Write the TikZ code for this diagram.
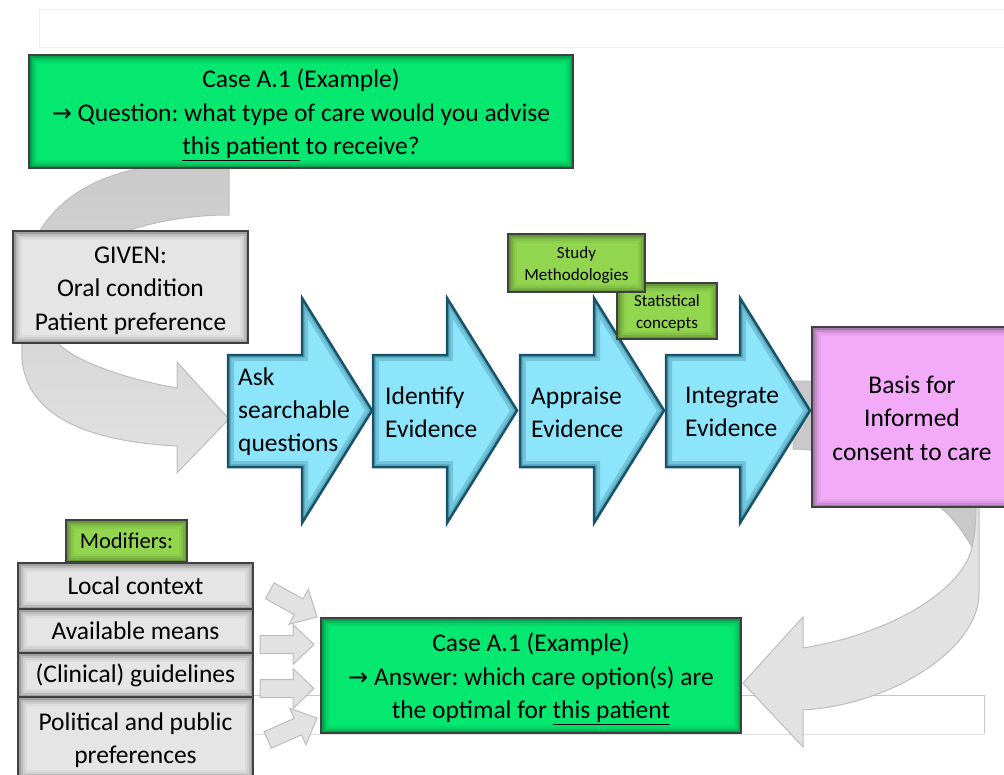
\documentclass[tikz,border=0pt]{standalone}
\usepackage{fontspec}
\setmainfont{Carlito}
\newfontfamily\arrfont{DejaVu Sans}
\usetikzlibrary{calc}
\frenchspacing
\definecolor{cgreen}{HTML}{05E870}
\definecolor{lgreen}{HTML}{92D64F}
\definecolor{cblue}{HTML}{8CE5FA}
\definecolor{bblue}{HTML}{17546C}
\definecolor{cpink}{HTML}{F2AAF9}
\definecolor{cgray}{HTML}{E5E5E5}
\definecolor{agray}{HTML}{E2E2E2}
\definecolor{adark}{HTML}{C9C9C9}
\definecolor{aedge}{HTML}{BDBDBD}
\newcommand{\rarr}{{\arrfont\fontsize{24pt}{24pt}\selectfont →}}
\newcommand{\topstrut}{\rule{0pt}{1.15em}}
\newcommand{\botstrut}{\rule[-0.4em]{0pt}{0.4em}}
\newcommand\bluearrowpath[1]{(#1,355) -- ({#1+74},355) -- ({#1+74},298) -- ({#1+144},410.5) -- ({#1+74},523) -- ({#1+74},467) -- (#1,467) -- cycle}
\newcommand\bluearrow[1]{%
  \fill[cblue] \bluearrowpath{#1};
  \begin{scope}
    \clip \bluearrowpath{#1};
    \draw[bblue,opacity=.22,line width=12pt] \bluearrowpath{#1};
    \draw[bblue,opacity=.22,line width=6pt] \bluearrowpath{#1};
  \end{scope}
  \draw[bblue,line width=2.5pt,line join=miter] \bluearrowpath{#1};
}
\newcommand\smallarrow[3]{%
  \draw[fill=agray,draw=aedge,line width=1pt,shift={(#1,#2)},rotate=#3]
    (0,-9) -- (33,-9) -- (33,-20) -- (54,0) -- (33,20) -- (33,9) -- (0,9) -- cycle;
}
\tikzset{
  glow/.style={path picture={
    \foreach \i/\o in {1.5/0.30,3.5/0.18,5.5/0.09,7.5/0.04}{
      \draw[black,opacity=\o,line width=2pt]
        ([shift={(\i pt,-\i pt)}]path picture bounding box.north west) rectangle
        ([shift={(-\i pt,\i pt)}]path picture bounding box.south east);}}},
  boxbase/.style={draw=black!75, line width=1.5pt, glow, inner sep=0pt, align=center,
    font=\fontsize{25.5pt}{33.5pt}\selectfont},
  greenbox/.style={boxbase, fill=cgreen},
  graybox/.style={boxbase, fill=cgray},
  pinkbox/.style={boxbase, fill=cpink},
  tagbox/.style={boxbase, fill=lgreen, font=\fontsize{17pt}{22pt}\selectfont},
  steptext/.style={anchor=west, align=left, inner sep=0pt, font=\fontsize{25.5pt}{33pt}\selectfont},
}
\begin{document}
\begin{tikzpicture}[x=1pt,y=-1pt]
\useasboundingbox (0,0) rectangle (1004,774);
% faint frames
\draw[black!6,line width=0.8pt] (39,9) rectangle (1010,47);
\draw[black!22,line width=0.8pt] (253,695) -- (984,695) -- (984,734);
\draw[black!12,line width=0.8pt] (253,734) -- (984,734);
% big curved arrow (left)
\shade[top color=adark, bottom color=agray, draw=aedge, line width=1pt]
  (229,150) -- (229,215) .. controls (195,215) and (160,220) .. (127,231)
  .. controls (80,250) and (45,300) .. (60,345)
  .. controls (75,360) and (120,378) .. (177,388)
  -- (177,362) -- (229,419) -- (177,473) -- (177,446)
  .. controls (60,440) and (18,400) .. (22,345)
  .. controls (10,260) and (40,185) .. (147,167) -- cycle;
% big curved arrow (right)
\fill[adark, draw=aedge, line width=1pt]
  (793,381) -- (930,381) .. controls (965,420) and (979,470) .. (977,507)
  .. controls (976,525) and (974,537) .. (972,547)
  .. controls (962,530) and (952,517) .. (940,507)
  .. controls (915,475) and (870,452) .. (793,449) -- cycle;
\fill[agray, draw=aedge, line width=1pt]
  (979,505) -- (979,593) .. controls (979,650) and (890,705) .. (803,710)
  -- (803,747) -- (743,683) -- (803,617) -- (803,648)
  .. controls (900,632) and (965,585) .. (972,547)
  .. controls (975,535) and (976,520) .. (976,505) -- cycle;
% blue step arrows
\bluearrow{228}
\bluearrow{373}
\bluearrow{520}
\bluearrow{666}
\node[steptext] (ask) at (238,411.5) {Ask\\searchable\\questions};
\node[steptext] (identify) at (385,412) {Identify\\Evidence};
\node[steptext] (appraise) at (531,412) {Appraise\\Evidence};
\node[steptext] (integrate) at (685,412) {Integrate\\Evidence};
% tags
\node[tagbox, minimum width=100pt, minimum height=56pt] (stat) at (667,311) {\topstrut Statistical\\concepts\botstrut};
\node[tagbox, minimum width=137pt, minimum height=58pt] (study) at (576.5,263) {\topstrut Study\\Methodologies\botstrut};
% boxes
\node[greenbox, minimum width=544pt, minimum height=113pt] (question) at (301,111.5)
  {\topstrut Case A.1 (Example)\\\rarr{} Question: what type of care would you advise\\\underline{this patient} to receive?\botstrut};
\node[graybox, minimum width=235pt, minimum height=112pt] (given) at (130.5,287)
  {\topstrut GIVEN:\\Oral condition\\Patient preference\botstrut};
\node[pinkbox, minimum width=200pt, minimum height=180pt] (basis) at (912,417)
  {\topstrut Basis for\\Informed\\consent to care\botstrut};
% modifiers
\node[tagbox, font=\fontsize{22.5pt}{27pt}\selectfont, minimum width=121pt, minimum height=42pt] (modifiers) at (126.5,541) {Modifiers:};
\node[graybox, minimum width=235pt, minimum height=46pt] (local) at (135.5,586) {Local context};
\node[graybox, minimum width=235pt, minimum height=44pt] (means) at (135.5,631) {Available means};
\node[graybox, minimum width=235pt, minimum height=44pt] (guide) at (135.5,675) {(Clinical) guidelines};
\node[graybox, minimum width=235pt, minimum height=81pt] (political) at (135.5,737.5) {\topstrut Political and public\\preferences\botstrut};
% small arrows
\smallarrow{269.8}{590.8}{-29}
\smallarrow{260}{644.5}{0}
\smallarrow{260}{688.5}{0}
\smallarrow{267.7}{740}{24}
% answer
\node[greenbox, minimum width=420pt, minimum height=115pt] (answer) at (531,675.5)
  {\topstrut Case A.1 (Example)\\\rarr{} Answer: which care option(s) are\\the optimal for \underline{this patient}\botstrut};
\end{tikzpicture}
\end{document}
